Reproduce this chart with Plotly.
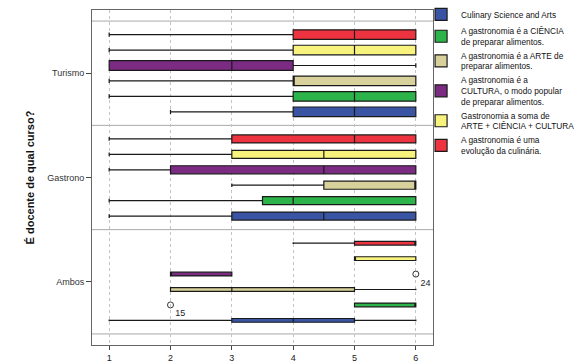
import plotly.graph_objects as go

# ---------------- data ----------------
categories = ["Ambos", "Gastrono", "Turismo"]
series_names = [
    "Culinary Science and Arts",
    "A gastronomia é a CIÊNCIA<br>de preparar alimentos.",
    "A gastronomia é a ARTE de<br>preparar alimentos.",
    "A gastronomia é a<br>CULTURA, o modo popular<br>de preparar alimentos.",
    "Gastronomia a soma de<br>ARTE + CIÊNCIA + CULTURA",
    "A gastronomia é uma<br>evolução da culinária.",
]
# per series: values for [Ambos, Gastrono, Turismo]
lower = [
    [1, 1, 2],
    [5, 1, 1],
    [2, 3, 1],
    [2, 1, 1],
    [5, 1, 1],
    [4, 1, 1],
]
q1 = [
    [3, 3, 4],
    [5, 3.5, 4],
    [2, 4.5, 4],
    [2, 2, 1],
    [5, 3, 4],
    [5, 3, 4],
]
median = [
    [4, 4.5, 5],
    [6, 4, 5],
    [3, 6, 4],
    [2, 4.5, 3],
    [5, 4.5, 5],
    [6, 5, 5],
]
q3 = [
    [5, 6, 6],
    [6, 6, 6],
    [5, 6, 6],
    [3, 6, 4],
    [6, 6, 6],
    [6, 6, 6],
]
upper = [
    [6, 6, 6],
    [6, 6, 6],
    [6, 6, 6],
    [3, 6, 6],
    [6, 6, 6],
    [6, 6, 6],
]
# outliers: (series index, category index, value, case label)
outlier_series = [3, 1]
outlier_category = [0, 0]
outlier_values = [6, 2]
outlier_labels = ["24", "15"]
x_ticks = [1, 2, 3, 4, 5, 6]

# ---------------- style ----------------
colors = ["#3a54a4", "#2cb34a", "#d8d19c", "#7b2b81", "#f7f37d", "#ee3340"]
row_step = 0.148            # spacing between series rows inside a category
box_width = [0.036, 0.077, 0.092]   # per category (Ambos, Gastrono, Turismo)
n_series = len(series_names)


def row_pos(si, ci):
    return ci + (si - (n_series - 1) / 2) * row_step


fig = go.Figure()
for si, name in enumerate(series_names):
    for ci, cat in enumerate(categories):
        fig.add_trace(go.Box(
            name=name,
            showlegend=(ci == 0),
            orientation="h",
            y=[row_pos(si, ci)],
            q1=[q1[si][ci]],
            median=[median[si][ci]],
            q3=[q3[si][ci]],
            lowerfence=[lower[si][ci]],
            upperfence=[upper[si][ci]],
            width=box_width[ci],
            whiskerwidth=0.45,
            fillcolor=colors[si],
            line=dict(color="#1a1a1a", width=1.2),
            boxpoints=False,
            hoverinfo="x",
        ))

fig.add_trace(go.Scatter(
    x=outlier_values,
    y=[row_pos(s, c) for s, c in zip(outlier_series, outlier_category)],
    mode="markers+text",
    text=outlier_labels,
    textposition="bottom right",
    textfont=dict(size=9, color="#222222", family="Liberation Sans, Arial"),
    marker=dict(symbol="circle-open", size=6, color="#333333", line=dict(width=1)),
    showlegend=False,
    hoverinfo="skip",
))

shapes = []
for b in [-0.5, 0.5, 1.5, 2.5]:
    shapes.append(dict(type="line", xref="paper", x0=0, x1=1, yref="y", y0=b, y1=b,
                       line=dict(color="#a8a8a8", width=1), layer="below"))

fig.update_layout(
    width=580, height=364,
    margin=dict(l=92, r=147, t=10, b=19, autoexpand=False),
    paper_bgcolor="white", plot_bgcolor="white",
    boxmode="overlay",
    font=dict(family="Liberation Sans, Arial", size=9, color="#222222"),
    shapes=shapes,
    legend=dict(
        x=0.965, y=1.03, xanchor="left", yanchor="top",
        font=dict(size=8.3, family="Liberation Sans, Arial", color="#111111"),
        tracegroupgap=0, valign="middle", itemwidth=30,
        bgcolor="rgba(0,0,0,0)",
    ),
    xaxis=dict(
        range=[0.72, 6.28], tickvals=x_ticks, automargin=False,
        showgrid=True, gridcolor="#c4c4c4", griddash="dot", gridwidth=1,
        zeroline=False, showline=True, linecolor="#666666", linewidth=1, mirror=True,
        ticks="outside", ticklen=4, tickcolor="#444444",
        tickfont=dict(size=9, color="#222222"),
    ),
    yaxis=dict(
        range=[-0.606, 2.606], tickvals=[0, 1, 2], ticktext=categories,
        automargin=False,
        showgrid=False, zeroline=False, showline=True, linecolor="#666666",
        linewidth=1, mirror=True,
        ticks="outside", ticklen=5, tickcolor="#444444",
        tickfont=dict(size=9, color="#333333"),
        title=dict(text="<b>É docente de qual curso?</b>",
                   font=dict(size=11, color="#111111"), standoff=10),
    ),
)

fig.write_html("out.html",
               config={"displayModeBar": False},
               post_script="document.body.style.margin='0px';document.body.style.overflow='hidden';")
